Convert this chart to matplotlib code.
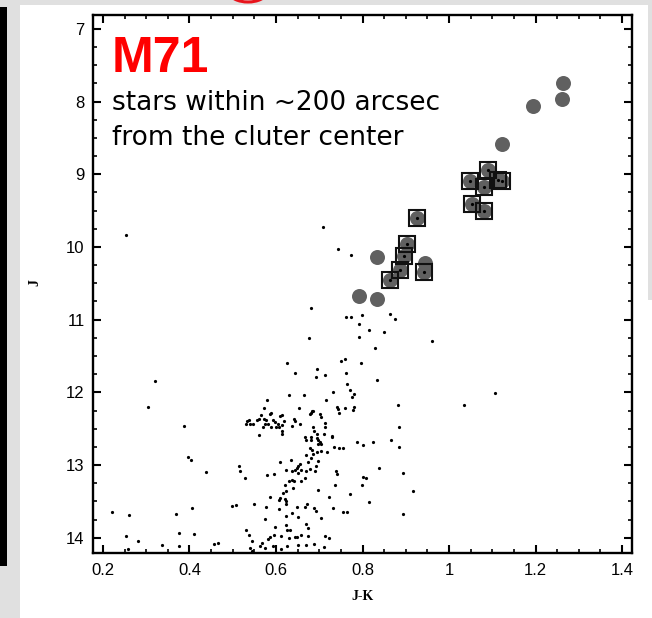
import matplotlib.pyplot as plt
from matplotlib.patches import Rectangle, Ellipse
from matplotlib.ticker import MultipleLocator, FuncFormatter

# faint stars: J-K colour and J magnitude
small_jk = [0.253, 0.320, 0.708, 0.743, 0.773, 0.680, 0.763, 0.774, 0.799, 0.793,
            0.864, 0.876, 0.816, 0.850, 0.677, 0.793, 0.830, 0.625, 0.645, 0.695,
            0.692, 0.713, 0.750, 0.760, 0.796, 0.763, 0.834, 0.764, 0.961, 1.106,
            0.303, 0.388, 0.397, 0.403, 0.438, 0.221, 0.261, 0.368, 0.407, 0.254,
            0.280, 0.258, 0.337, 0.376, 0.376, 0.410, 0.457, 0.467,
            1.035, 0.894, 0.916, 0.894,
            0.772, 0.780, 0.775, 0.631, 0.665, 0.732, 0.715, 0.580, 0.572, 0.654,
            0.683, 0.678, 0.741, 0.743, 0.760, 0.780, 0.779, 0.883, 0.701, 0.703,
            0.745, 0.642, 0.644, 0.714,
            0.532, 0.530, 0.537, 0.541, 0.547, 0.557, 0.561, 0.566, 0.572, 0.575,
            0.578, 0.582, 0.587, 0.588, 0.593, 0.597, 0.589, 0.600, 0.604, 0.606,
            0.610, 0.615, 0.618, 0.614, 0.615, 0.615, 0.636, 0.655, 0.561, 0.570,
            0.682, 0.685, 0.686, 0.689, 0.695, 0.694, 0.698, 0.702, 0.705, 0.697,
            0.668, 0.669, 0.681, 0.682, 0.711, 0.714, 0.729, 0.730, 0.735, 0.746,
            0.756, 0.788, 0.802, 0.825, 0.865, 0.885, 0.884,
            0.678, 0.683, 0.694, 0.705, 0.719, 0.669, 0.686, 0.635, 0.609, 0.680,
            0.698, 0.673, 0.655, 0.652, 0.648, 0.658, 0.624, 0.637, 0.643, 0.670,
            0.679, 0.690, 0.693, 0.738, 0.740, 0.837, 0.580, 0.595, 0.515, 0.517,
            0.528, 0.650, 0.668, 0.658, 0.642, 0.638, 0.631, 0.620, 0.640, 0.623,
            0.616, 0.609, 0.608, 0.621, 0.624, 0.587, 0.698, 0.736, 0.722, 0.772,
            0.799, 0.801, 0.808, 0.816,
            0.498, 0.507, 0.549, 0.577, 0.606, 0.623, 0.649, 0.666, 0.671, 0.689,
            0.692, 0.732, 0.754, 0.764, 0.705, 0.652, 0.623, 0.638, 0.575, 0.598,
            0.624, 0.626, 0.632, 0.669, 0.675, 0.657, 0.645, 0.649, 0.631, 0.612,
            0.595, 0.586, 0.581, 0.567, 0.563, 0.544, 0.530, 0.537, 0.540, 0.544,
            0.575, 0.592, 0.611, 0.626, 0.652, 0.669, 0.675, 0.689, 0.711, 0.714,
            0.722]
small_j = [9.83, 11.84, 9.73, 10.03, 10.11, 10.84, 10.96, 10.97, 10.94, 11.06,
           10.92, 10.99, 11.14, 11.17, 11.25, 11.24, 11.39, 11.60, 11.73, 11.68,
           11.79, 11.76, 11.57, 11.54, 11.60, 11.73, 11.83, 11.89, 11.30, 12.01,
           12.20, 12.47, 12.89, 12.93, 13.10, 13.64, 13.69, 13.67, 13.59, 13.98,
           14.05, 14.15, 14.10, 13.94, 14.11, 13.95, 14.09, 14.07,
           12.17, 13.11, 13.36, 13.67,
           11.97, 12.02, 12.06, 12.03, 12.03, 11.99, 12.10, 12.10, 12.21, 12.22,
           12.25, 12.30, 12.20, 12.23, 12.21, 12.20, 12.24, 12.18, 12.30, 12.34,
           12.29, 12.36, 12.39, 12.42,
           12.40, 12.44, 12.38, 12.43, 12.44, 12.38, 12.36, 12.31, 12.36, 12.43,
           12.38, 12.44, 12.30, 12.28, 12.38, 12.41, 12.48, 12.48, 12.44, 12.48,
           12.32, 12.31, 12.39, 12.45, 12.53, 12.58, 12.47, 12.44, 12.59, 12.48,
           12.28, 12.26, 12.48, 12.53, 12.58, 12.63, 12.66, 12.69, 12.71, 12.71,
           12.62, 12.65, 12.62, 12.66, 12.58, 12.48, 12.60, 12.62, 12.75, 12.76,
           12.76, 12.68, 12.73, 12.69, 12.65, 12.48, 12.75,
           12.76, 12.80, 12.82, 12.81, 12.82, 12.86, 12.85, 12.93, 12.96, 12.91,
           12.94, 12.96, 12.99, 13.01, 13.04, 13.07, 13.07, 13.08, 13.07, 13.08,
           13.05, 13.08, 13.02, 13.08, 13.12, 13.04, 13.14, 13.13, 13.02, 13.08,
           13.18, 13.11, 13.18, 13.22, 13.22, 13.20, 13.22, 13.27, 13.31, 13.36,
           13.39, 13.45, 13.48, 13.47, 13.49, 13.44, 13.35, 13.27, 13.44, 13.40,
           13.27, 13.17, 13.18, 13.51,
           13.57, 13.55, 13.54, 13.58, 13.60, 13.53, 13.58, 13.58, 13.54, 13.59,
           13.63, 13.59, 13.64, 13.64, 13.73, 13.72, 13.70, 13.66, 13.74, 13.85,
           13.83, 13.90, 13.90, 13.81, 13.86, 13.96, 13.99, 13.99, 14.01, 13.97,
           13.96, 13.99, 14.02, 14.07, 14.12, 14.05, 13.89, 13.96, 14.14, 14.18,
           14.14, 14.12, 14.15, 14.12, 14.10, 14.10, 13.98, 14.08, 14.13, 13.97,
           14.00]

# bright giants without a box
giant_jk = [1.264, 1.262, 1.193, 1.123, 0.944, 0.833, 0.793, 0.834]
giant_j = [7.75, 7.96, 8.06, 8.59, 10.22, 10.14, 10.68, 10.71]

# bright giants marked with a box
boxed_jk = [1.089, 1.049, 1.082, 1.113, 1.122, 1.052, 1.082, 0.925, 0.902,
            0.896, 0.887, 0.864, 0.942]
boxed_j = [8.94, 9.10, 9.18, 9.08, 9.10, 9.41, 9.51, 9.60, 9.96, 10.12,
           10.32, 10.46, 10.35]

W, H = 652, 618


def fx(px):
    return px / W


def fy(py):
    return 1 - py / H


fig = plt.figure(figsize=(W / 100, H / 100), dpi=100, facecolor='#e0e0e0')

# slide panel behind the plot
fig.add_artist(Rectangle((fx(20), 0), fx(632), fy(5), transform=fig.transFigure,
                         facecolor='white', edgecolor='none', zorder=0))
fig.add_artist(Rectangle((fx(648), fy(300)), fx(4), fy(0) - fy(300), transform=fig.transFigure,
                         facecolor='#e0e0e0', edgecolor='none', zorder=0))
fig.add_artist(Rectangle((0, fy(566)), fx(7), fy(7) - fy(566), transform=fig.transFigure,
                         facecolor='black', edgecolor='none', zorder=0))
fig.add_artist(Ellipse((fx(248), fy(-7)), fx(36), 18 / H, transform=fig.transFigure,
                       facecolor='none', edgecolor='#e8141c', lw=2.2, zorder=1))

ax = fig.add_axes([fx(93), fy(553), fx(632) - fx(93), fy(15) - fy(553)])
ax.set_facecolor('white')

ax.plot(giant_jk + boxed_jk, giant_j + boxed_j, 'o', ms=10.8, color='#606060',
        mec='none', zorder=2)
ax.plot(small_jk + boxed_jk, small_j + boxed_j, 'o', ms=2.3, color='black',
        mec='none', zorder=3)
ax.plot(boxed_jk, boxed_j, 's', ms=12, mfc='none', mec='#111111', mew=1.5, zorder=4)

ax.set_xlim(0.177, 1.423)
ax.set_ylim(14.21, 6.81)

ax.xaxis.set_major_locator(MultipleLocator(0.2))
ax.xaxis.set_minor_locator(MultipleLocator(0.05))
ax.yaxis.set_major_locator(MultipleLocator(1))
ax.yaxis.set_minor_locator(MultipleLocator(0.25))
ax.xaxis.set_major_formatter(FuncFormatter(lambda v, p: '%g' % round(v, 2)))
ax.yaxis.set_major_formatter(FuncFormatter(lambda v, p: '%g' % round(v, 2)))

for s in ax.spines.values():
    s.set_linewidth(1.7)
ax.tick_params(which='both', direction='in', top=True, right=True, color='black')
ax.tick_params(which='major', length=5.5, width=1.5, labelsize=12)
ax.tick_params(which='minor', length=3, width=1.2)
ax.tick_params(axis='x', which='major', pad=7)
ax.tick_params(axis='y', which='major', pad=6)
for lab in ax.get_xticklabels() + ax.get_yticklabels():
    lab.set_fontfamily('Liberation Sans')

fig.text(fx(362), fy(596.5), 'J-K', ha='center', va='center', fontsize=10,
         fontweight='bold', family='Liberation Serif')
fig.text(fx(34.5), fy(283), 'J', ha='center', va='center', fontsize=10,
         fontweight='bold', family='Liberation Serif', rotation=90)

fig.text(fx(112), fy(72), 'M71', color='#ff0000', fontsize=36, fontweight='bold',
         family='Liberation Sans', va='baseline')
fig.text(fx(112), fy(110), 'stars within ~200 arcsec', fontsize=19,
         family='DejaVu Sans', va='baseline')
fig.text(fx(112), fy(145), 'from the cluter center', fontsize=19,
         family='DejaVu Sans', va='baseline')

fig.savefig('out.png', dpi=100, facecolor=fig.get_facecolor())
